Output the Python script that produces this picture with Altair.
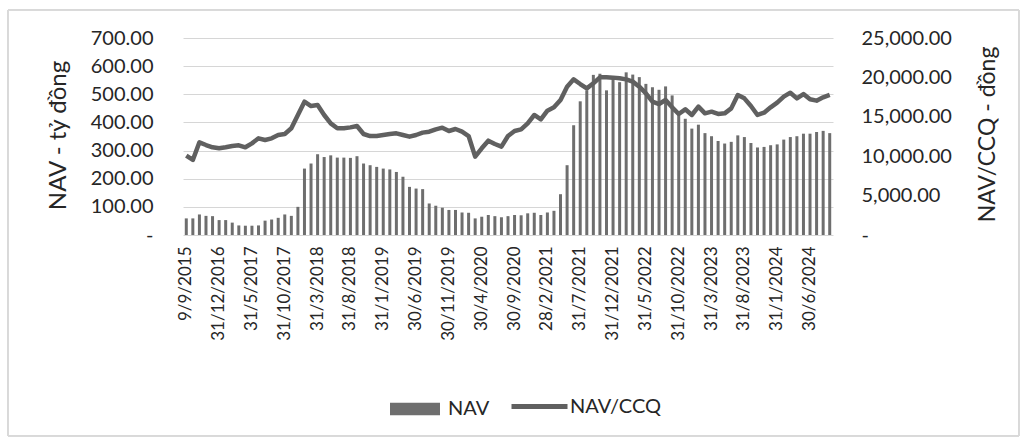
import altair as alt
import pandas as pd
import calendar

# Category labels (first five points, then month-ends from Dec 2016 to Sep 2024)
dates = ["9/9/2015", "31/12/2015", "31/3/2016", "30/6/2016", "30/9/2016"]
yy, mm = 2016, 12
while len(dates) < 99:
    dd = calendar.monthrange(yy, mm)[1]
    dates.append(f"{dd}/{mm}/{yy}")
    mm += 1
    if mm > 12:
        mm = 1
        yy += 1

# NAV (tỷ đồng) - bars, left axis
nav = [59, 59, 73, 68, 67, 53, 53, 44, 34, 33, 33, 34, 51, 55, 61, 73, 68, 100,
       236, 254, 287, 277, 283, 275, 275, 274, 280, 254, 248, 242, 236, 233, 224,
       207, 171, 165, 163, 112, 104, 97, 89, 89, 80, 79, 59, 65, 71, 67, 63, 67,
       71, 70, 77, 79, 71, 80, 86, 145, 248, 390, 475, 514, 569, 573, 514, 561,
       543, 578, 570, 561, 537, 525, 516, 528, 496, 431, 413, 378, 392, 362, 351,
       334, 325, 331, 354, 348, 327, 311, 313, 319, 322, 339, 348, 351, 360, 360,
       366, 370, 362]

# NAV/CCQ (đồng) - line, right axis
nav_ccq = [10070, 9520, 11760, 11420, 11130, 11000, 11130, 11290, 11380, 11130,
           11630, 12270, 12060, 12270, 12690, 12820, 13540, 15230, 16920, 16370,
           16500, 15230, 14170, 13540, 13540, 13660, 13830, 12820, 12560, 12560,
           12690, 12820, 12900,
           12690, 12480, 12690, 12990, 13110, 13410, 13620, 13200, 13450, 13110,
           12560, 9940, 11000, 11970, 11550, 11210, 12560, 13200, 13410, 14170,
           15230, 14680, 15780, 16200, 17130, 18820, 19750, 19160, 18610, 19250,
           20010, 20010, 19970,
           19880, 19750, 19460, 18820, 17980, 16920, 16620, 17130, 16200, 15360,
           15950, 15230, 16290, 15440, 15650, 15360, 15440, 16070, 17770, 17340,
           16370, 15230, 15520, 16200, 16790, 17560, 18060, 17340, 17890, 17220,
           17050, 17470, 17770]

left_ticks = [0, 100, 200, 300, 400, 500, 600, 700]
right_ticks = [0, 5000, 10000, 15000, 20000, 25000]

df = pd.DataFrame({"date": dates, "nav": nav, "navccq": nav_ccq,
                   "s1": "NAV", "s2": "NAV/CCQ"})

FONT = "Lato"
TXT = "#262626"
BAR = "#6e6e6e"
LINE = "#606060"

x_enc = alt.X("date:N", sort=dates,
              scale=alt.Scale(paddingInner=0, paddingOuter=0),
              axis=alt.Axis(values=dates[::5], title=None, labelAngle=270,
                            labelAlign="right", labelBaseline="middle",
                            labelFont=FONT, labelFontSize=17, labelColor=TXT,
                            labelPadding=11, ticks=False, domain=False,
                            grid=False, labelOverlap=False))

bars = alt.Chart(df).mark_bar(size=3).encode(
    x=x_enc,
    y=alt.Y("nav:Q", scale=alt.Scale(domain=[0, 700], nice=False),
            axis=alt.Axis(values=left_ticks, title="NAV - tỷ đồng",
                          labelExpr="datum.value == 0 ? '-\u2007\u2007' : format(datum.value, '.2f')",
                          labelFont=FONT, labelFontSize=20, labelColor=TXT,
                          labelPadding=30, ticks=False, domain=False,
                          grid=True, gridColor="#d6d6d6", gridWidth=1,
                          titleFont=FONT, titleFontSize=24, titleFontWeight="normal",
                          titleColor=TXT, titleAngle=270, titleBaseline="middle",
                          titleAlign="center", titleX=-125, titleY=97)),
    color=alt.Color("s1:N", scale=alt.Scale(domain=["NAV"], range=[BAR]),
                    legend=alt.Legend(title=None, orient="none", legendX=207, legendY=346,
                                      symbolType="M-1,-0.25L1,-0.25L1,0.25L-1,0.25Z",
                                      symbolSize=2500, symbolStrokeWidth=0,
                                      labelFont=FONT, labelFontSize=20, labelColor=TXT,
                                      labelOffset=8, padding=0)),
)

line = alt.Chart(df).mark_line(strokeWidth=4.5, strokeJoin="round").encode(
    x=alt.X("date:N", sort=dates),
    y=alt.Y("navccq:Q", scale=alt.Scale(domain=[0, 25000], nice=False),
            axis=alt.Axis(orient="right", values=right_ticks, title="NAV/CCQ - đồng",
                          labelExpr="datum.value == 0 ? '-' : format(datum.value, ',.2f')",
                          labelFont=FONT, labelFontSize=20, labelColor=TXT,
                          labelPadding=28, ticks=False, domain=False, grid=False,
                          titleFont=FONT, titleFontSize=23, titleFontWeight="normal",
                          titleColor=TXT, titleAngle=270, titleBaseline="middle",
                          titleAlign="center", titleX=154, titleY=96)),
    color=alt.Color("s2:N", scale=alt.Scale(domain=["NAV/CCQ"], range=[LINE]),
                    legend=alt.Legend(title=None, orient="none", legendX=326, legendY=338,
                                      symbolType="stroke", symbolSize=3136,
                                      symbolStrokeWidth=5,
                                      labelFont=FONT, labelFontSize=20, labelColor=TXT,
                                      labelOffset=0, padding=0)),
)

border = alt.Chart(df).mark_rect(fill="transparent", stroke="#d9d9d9", strokeWidth=1).encode(
    x=alt.value(-175), x2=alt.value(836), y=alt.value(-28), y2=alt.value(398)
)

chart = alt.layer(border, bars, line).resolve_scale(
    y="independent", color="independent"
).properties(
    width=650, height=197,
    autosize=alt.AutoSizeParams(type="none"),
    padding={"left": 183, "top": 38, "right": 194, "bottom": 206},
    background="white",
).configure_view(stroke=None)

chart.save("out.html", embed_options={"renderer": "svg", "actions": False})
